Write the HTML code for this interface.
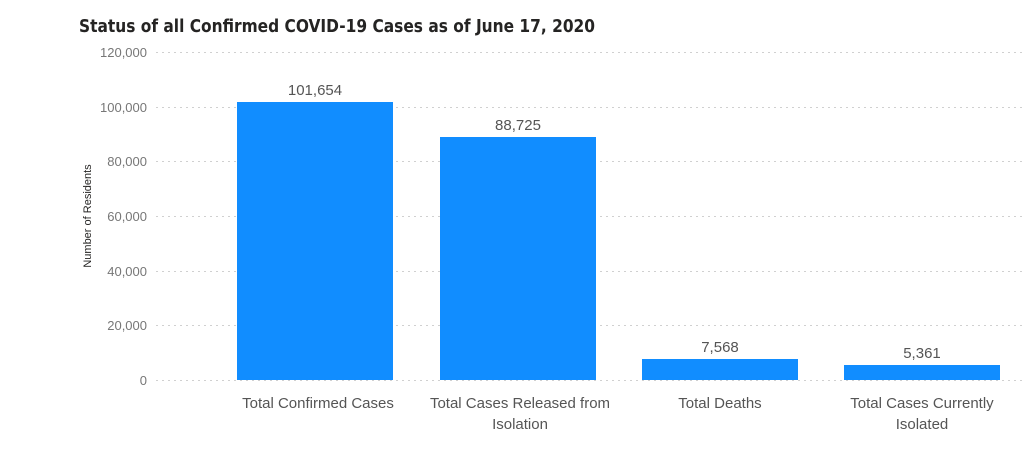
<!DOCTYPE html>
<html><head><style>
html,body{margin:0;padding:0;background:#fff;}
svg{display:block;font-family:"Liberation Sans",sans-serif;}
</style></head><body>
<svg width="1024" height="463" viewBox="0 0 1024 463" xmlns="http://www.w3.org/2000/svg">
<text x="79" y="32" font-size="18" font-weight="bold" fill="#252423" textLength="516" lengthAdjust="spacingAndGlyphs" font-family="DejaVu Sans Condensed, Liberation Sans Narrow, sans-serif">Status of all Confirmed COVID-19 Cases as of June 17, 2020</text>
<g stroke="#d0d0d0" stroke-width="1" stroke-dasharray="2,4">
<line x1="156" x2="1024" y1="52.5" y2="52.5"/>
<line x1="156" x2="1024" y1="107.5" y2="107.5"/>
<line x1="156" x2="1024" y1="161.5" y2="161.5"/>
<line x1="156" x2="1024" y1="216.5" y2="216.5"/>
<line x1="156" x2="1024" y1="271.5" y2="271.5"/>
<line x1="156" x2="1024" y1="325.5" y2="325.5"/>
<line x1="156" x2="1024" y1="380.5" y2="380.5"/>
</g>
<g font-size="13" fill="#777" text-anchor="end">
<text x="147" y="57">120,000</text>
<text x="147" y="112">100,000</text>
<text x="147" y="166">80,000</text>
<text x="147" y="221">60,000</text>
<text x="147" y="276">40,000</text>
<text x="147" y="330">20,000</text>
<text x="147" y="385">0</text>
</g>
<text transform="translate(91,216) rotate(-90)" font-size="11" fill="#252423" text-anchor="middle">Number of Residents</text>
<g fill="#118dff">
<rect x="237" y="102" width="156" height="278"/>
<rect x="440" y="137" width="156" height="243"/>
<rect x="642" y="359" width="156" height="21"/>
<rect x="844" y="365" width="156" height="15"/>
</g>
<g font-size="15" fill="#555" text-anchor="middle">
<text x="315" y="95">101,654</text>
<text x="518" y="130">88,725</text>
<text x="720" y="352">7,568</text>
<text x="922" y="358">5,361</text>
</g>
<g font-size="15" fill="#555" text-anchor="middle">
<text x="318" y="408">Total Confirmed Cases</text>
<text x="520" y="408">Total Cases Released from</text>
<text x="520" y="429">Isolation</text>
<text x="720" y="408">Total Deaths</text>
<text x="922" y="408">Total Cases Currently</text>
<text x="922" y="429">Isolated</text>
</g>
</svg>
</body></html>
